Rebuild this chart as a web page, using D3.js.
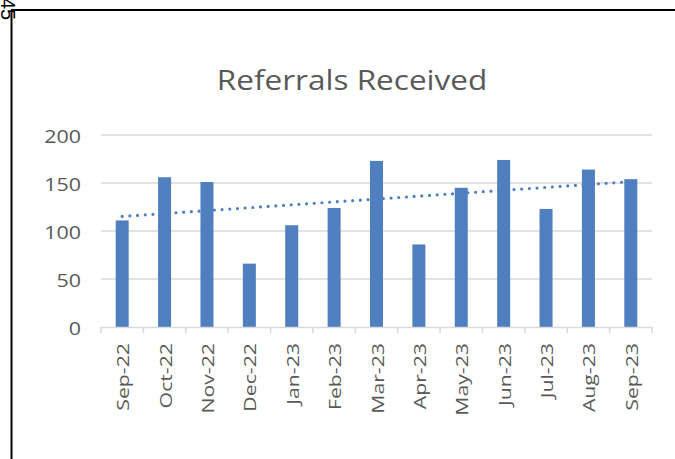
<!DOCTYPE html>
<html>
<head>
<meta charset="utf-8">
<script src="https://cdn.jsdelivr.net/npm/d3@7"></script>
<style>
body { margin:0; background:#fff; }
svg { display:block; }
</style>
</head>
<body>
<svg id="chart"></svg>
<script>
// monthly referrals
var months = ["Sep-22","Oct-22","Nov-22","Dec-22","Jan-23","Feb-23","Mar-23","Apr-23","May-23","Jun-23","Jul-23","Aug-23","Sep-23"];
var referrals = [111,156,151,66,106,124,173,86,145,174,123,164,154];
var yTicks = [0,50,100,150,200];
var chartTitle = "Referrals Received";

var width = 675, height = 459;
var plotL = 101, plotR = 652, plotT = 135, plotB = 327;
var font = "Open Sans, sans-serif";

var svg = d3.select("#chart").attr("width", width).attr("height", height);

// frame lines of the sheet
svg.append("line").attr("x1",11).attr("y1",10).attr("x2",675).attr("y2",10)
  .attr("stroke","#000").attr("stroke-width",2);
svg.append("line").attr("x1",11.5).attr("y1",10).attr("x2",11.5).attr("y2",459)
  .attr("stroke","#000").attr("stroke-width",2);
svg.append("text").text("45")
  .attr("transform","translate(1,-2) rotate(90)")
  .attr("font-family","Liberation Sans, Arial, sans-serif")
  .attr("font-size",20).attr("fill","#000");

var x = d3.scaleBand().domain(months).range([plotL, plotR]).paddingInner(0).paddingOuter(0);
var y = d3.scaleLinear().domain([0,200]).range([plotB, plotT]);

// title
svg.append("text").text(chartTitle)
  .attr("transform","translate(352,90) scale(1.19,1)")
  .attr("text-anchor","middle")
  .attr("font-family",font)
  .attr("font-size",26.5).attr("fill","#595959");

// gridlines
svg.append("g").selectAll("line").data(yTicks.filter(function(d){return d>0;}))
  .enter().append("line")
  .attr("x1",plotL).attr("x2",plotR)
  .attr("y1",function(d){return y(d);}).attr("y2",function(d){return y(d);})
  .attr("stroke","#d9d9d9").attr("stroke-width",1.5);

// y labels
svg.append("g").selectAll("text").data(yTicks).enter().append("text")
  .text(function(d){return d;})
  .attr("transform",function(d){return "translate(81," + (y(d)+8) + ") scale(1.19,1)";})
  .attr("text-anchor","end")
  .attr("font-family",font)
  .attr("font-size",18).attr("fill","#595959");

// bars
var bw = 13;
svg.append("g").selectAll("rect").data(referrals).enter().append("rect")
  .attr("x",function(d,i){return x(months[i]) + x.bandwidth()/2 - bw/2;})
  .attr("y",function(d){return y(d);})
  .attr("width",bw)
  .attr("height",function(d){return y(0)-y(d);})
  .attr("fill","#4f7fbe");

// category axis line and ticks
svg.append("line").attr("x1",plotL).attr("x2",plotR).attr("y1",plotB+0.5).attr("y2",plotB+0.5)
  .attr("stroke","#d9d9d9").attr("stroke-width",1.5);
var bounds = months.map(function(m){return x(m);}).concat([plotR]);
svg.append("g").selectAll("line").data(bounds).enter().append("line")
  .attr("x1",function(d){return d;}).attr("x2",function(d){return d;})
  .attr("y1",plotB).attr("y2",plotB+6)
  .attr("stroke","#d9d9d9").attr("stroke-width",1.5);

svg.append("g").selectAll("text").data(months).enter().append("text")
  .text(function(d){return d;})
  .attr("transform",function(d){return "translate(" + (x(d)+x.bandwidth()/2+7) + "," + (plotB+16) + ") rotate(-90) scale(1.25,1)";})
  .attr("text-anchor","end")
  .attr("font-family",font)
  .attr("font-size",17).attr("fill","#595959");

// linear trendline
var n = referrals.length;
var mx = d3.mean(d3.range(n)), my = d3.mean(referrals);
var sxy = d3.sum(referrals, function(v,i){return (i-mx)*(v-my);});
var sxx = d3.sum(d3.range(n), function(i){return (i-mx)*(i-mx);});
var slope = sxy/sxx, icpt = my - slope*mx;
var trend = d3.line()
  .x(function(d){return x(months[d]) + x.bandwidth()/2;})
  .y(function(d){return y(icpt + slope*d);});
svg.append("path").datum([0, n-1])
  .attr("d", trend)
  .attr("fill","none").attr("stroke","#4f7fbe")
  .attr("stroke-width",3.2).attr("stroke-linecap","round")
  .attr("stroke-dasharray","0,7.7");
</script>
</body>
</html>
